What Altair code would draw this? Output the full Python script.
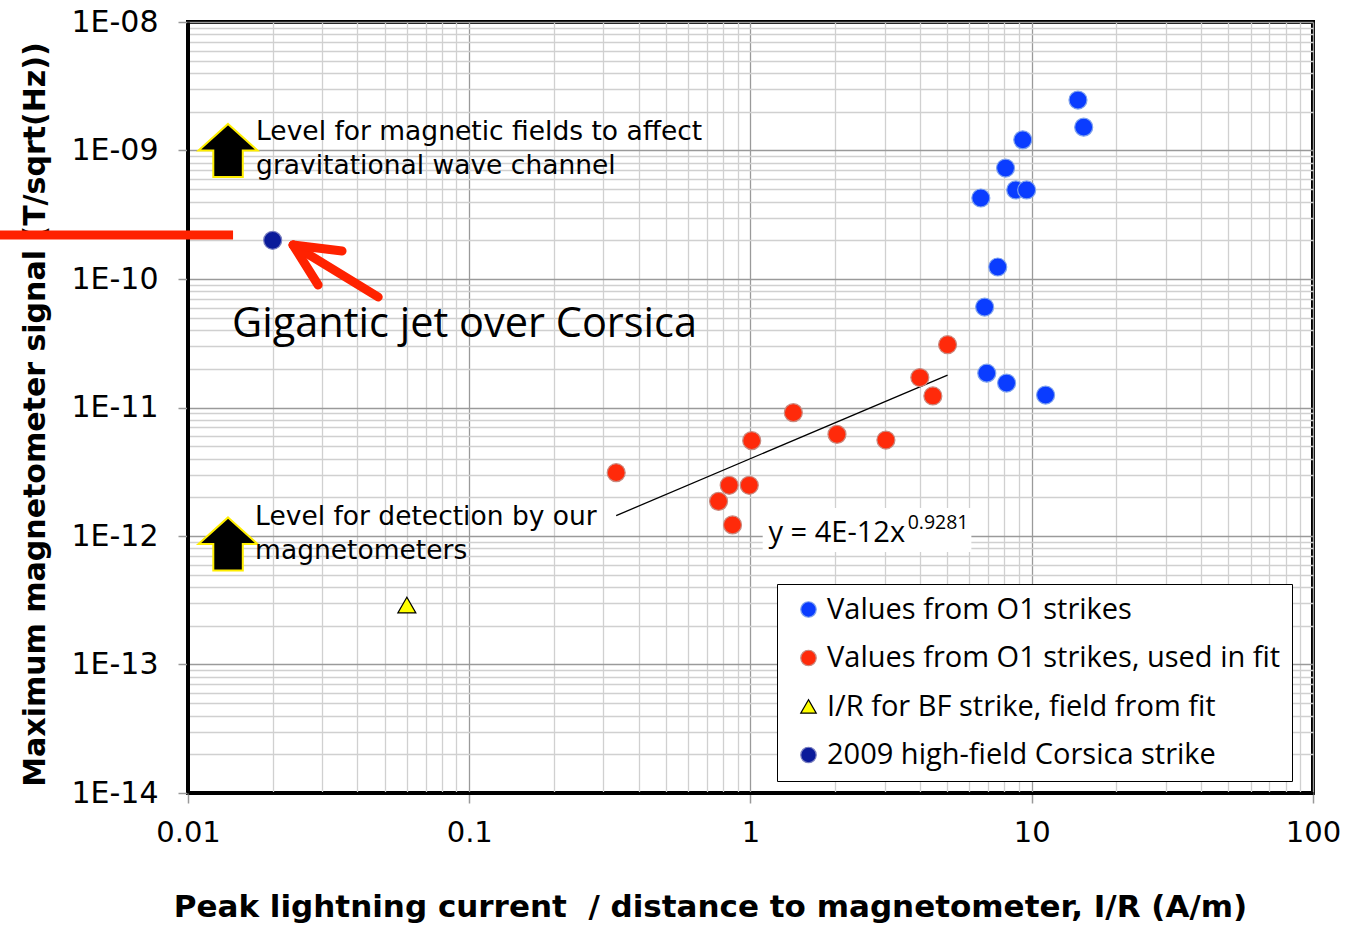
import altair as alt
import pandas as pd

# Peak current / distance (A/m) and peak magnetometer signal (T/sqrt(Hz))
o1_ir = [14.6, 15.3, 9.29, 8.07, 8.77, 9.59, 6.59, 7.57, 6.8, 6.92, 8.14, 11.2]
o1_b = [2.47e-9, 1.52e-9, 1.21e-9, 7.3e-10, 4.93e-10, 4.93e-10, 4.27e-10,
        1.24e-10, 6.05e-11, 1.85e-11, 1.55e-11, 1.25e-11]

fit_ir = [0.333, 1.42, 1.01, 2.03, 3.03, 0.84, 0.99, 0.77, 0.863, 4.0, 4.45, 5.02]
fit_b = [3.11e-12, 9.12e-12, 5.52e-12, 6.18e-12, 5.58e-12, 2.48e-12, 2.48e-12,
         1.86e-12, 1.22e-12, 1.71e-11, 1.23e-11, 3.08e-11]

bf_ir = [0.06]
bf_b = [2.9e-13]

corsica_ir = [0.02]
corsica_b = [2.0e-10]

series_names = [
    "Values from O1 strikes",
    "Values from O1 strikes, used in fit",
    "I/R for BF strike, field from fit",
    "2009 high-field Corsica strike",
]
series_fill = ["#0A3CFF", "#FF2A0A", "#FFFF00", "#0A1A9A"]
series_stroke = ["#7FA2EE", "#C98A80", "#000000", "#7A7FC0"]
series_shape = ["circle", "circle", "triangle-up", "circle"]

# power-law fit y = a * x^b, as printed on the chart
fit_a = 4e-12
fit_b_exp = 0.9281

rows = []
for name, xs, ys in zip(series_names, [o1_ir, fit_ir, bf_ir, corsica_ir],
                        [o1_b, fit_b, bf_b, corsica_b]):
    for xv, yv in zip(xs, ys):
        rows.append({"ir": xv, "b": yv, "series": name})
points = pd.DataFrame(rows)

fit_x = [min(fit_ir), max(fit_ir)]
fit_line = pd.DataFrame({"ir": fit_x, "b": [fit_a * v ** fit_b_exp for v in fit_x]})

# grid / tick values: every integer multiple inside each decade
x_vals = [k * 10.0 ** e for e in range(-2, 2) for k in range(1, 10)] + [100.0]
y_vals = [k * 10.0 ** e for e in range(-14, -8) for k in range(1, 10)] + [1e-8]

is_decade = "abs(log(datum.value)/LN10 - round(log(datum.value)/LN10)) < 0.001"

SANS = "DejaVu Sans"
SOFT = "Open Sans"

x_scale = alt.Scale(type="log", domain=[0.01, 100])
y_scale = alt.Scale(type="log", domain=[1e-14, 1e-8])

x_axis = alt.Axis(
    values=x_vals,
    labelExpr=f"({is_decade}) ? format(datum.value, '~g') : ''",
    labelFont=SANS, labelFontSize=29, labelColor="black",
    labelPadding=15, labelFlush=False, labelOverlap=False,
    tickSize=10, tickWidth=1.5,
    tickColor={"condition": {"test": is_decade, "value": "#999999"}, "value": "transparent"},
    grid=True, gridWidth=1.3,
    gridColor={"condition": {"test": is_decade, "value": "#9a9a9a"}, "value": "#d0d0d0"},
    domainColor="black", domainWidth=3,
    title="Peak lightning current\u00a0 / distance to magnetometer, I/R (A/m)",
    titleFont=SANS, titleFontSize=31, titleFontWeight="bold",
    titleColor="black", titleX=522, titleY=114, titleBaseline="middle",
    titleAlign="center",
)
y_axis = alt.Axis(
    values=y_vals,
    labelExpr=(f"({is_decade}) ? ('1E-' + (round(-log(datum.value)/LN10) < 10 ? '0' : '')"
               " + round(-log(datum.value)/LN10)) : ''"),
    labelFont=SANS, labelFontSize=30, labelColor="black",
    labelPadding=20, labelFlush=False, labelOverlap=False,
    tickSize=10, tickWidth=1.5,
    tickColor={"condition": {"test": is_decade, "value": "#999999"}, "value": "transparent"},
    grid=True, gridWidth=1.3,
    gridColor={"condition": {"test": is_decade, "value": "#9a9a9a"}, "value": "#d0d0d0"},
    domainColor="black", domainWidth=3,
    title="Maximum magnetometer signal (T/sqrt(Hz))",
    titleFont=SANS, titleFontSize=30, titleFontWeight="bold",
    titleColor="black", titleX=-153, titleY=392, titleAngle=270,
    titleBaseline="middle", titleAlign="center",
)

legend = alt.Legend(
    orient="none", legendX=589, legendY=562,
    labelFont=SOFT, labelFontSize=29, labelColor="black", labelLimit=700,
    labelOffset=4, symbolOffset=6, symbolSize=240, symbolStrokeWidth=1.2,
    rowPadding=18.5, padding=11,
    fillColor="white", strokeColor="black",
)

scatter = alt.Chart(points).mark_point(filled=True, size=324, strokeWidth=1.2, opacity=1).encode(
    x=alt.X("ir:Q", scale=x_scale, axis=x_axis),
    y=alt.Y("b:Q", scale=y_scale, axis=y_axis),
    fill=alt.Fill("series:N", title=None,
                  scale=alt.Scale(domain=series_names, range=series_fill), legend=legend),
    stroke=alt.Stroke("series:N", title=None,
                      scale=alt.Scale(domain=series_names, range=series_stroke), legend=legend),
    shape=alt.Shape("series:N", title=None,
                    scale=alt.Scale(domain=series_names, range=series_shape), legend=legend),
)

fit = alt.Chart(fit_line).mark_line(color="black", strokeWidth=1.3).encode(
    x=alt.X("ir:Q", scale=x_scale), y=alt.Y("b:Q", scale=y_scale)
)

# up arrows marking the two threshold levels
arrow_path = "M0,-0.9 L1,0 L0.5,0 L0.5,0.9 L-0.5,0.9 L-0.5,0 L-1,0 Z"
arrows = pd.DataFrame({"ir": [0.01388, 0.01388], "b": [1.0e-9, 8.67e-13]})
arrow_marks = alt.Chart(arrows).mark_point(
    shape=arrow_path, size=3481, filled=True, fill="black", stroke="#FFEE00",
    strokeWidth=2, opacity=1
).encode(x=alt.X("ir:Q", scale=x_scale), y=alt.Y("b:Q", scale=y_scale))

notes = pd.DataFrame({
    "ir": [0.01746, 0.01746, 0.01732, 0.01732],
    "b": [1.393e-9, 7.57e-10, 1.406e-12, 7.64e-13],
    "text": ["Level for magnetic fields to affect", "gravitational wave channel",
             "Level for detection by our", "magnetometers"],
})
note_marks = alt.Chart(notes).mark_text(
    align="left", baseline="middle", font=SANS, fontSize=26.5, color="black"
).encode(x=alt.X("ir:Q", scale=x_scale), y=alt.Y("b:Q", scale=y_scale), text="text:N")

jet = pd.DataFrame({"ir": [0.01434], "b": [4.38e-11], "text": ["Gigantic jet over Corsica"]})
jet_mark = alt.Chart(jet).mark_text(
    align="left", baseline="middle", font=SOFT, fontSize=41.5, color="black"
).encode(x=alt.X("ir:Q", scale=x_scale), y=alt.Y("b:Q", scale=y_scale), text="text:N")

# red pointer: horizontal bar and arrow toward the Corsica point
red_bar = pd.DataFrame({"ir": [0.00214], "ir2": [0.01446], "b": [2.2e-10], "b2": [2.2e-10]})
red_bar_mark = alt.Chart(red_bar).mark_rule(color="#FF2200", strokeWidth=9, strokeCap="butt").encode(
    x=alt.X("ir:Q", scale=x_scale), x2="ir2", y=alt.Y("b:Q", scale=y_scale), y2="b2"
)
red_arrow = pd.DataFrame({
    "ir": [0.02364, 0.02364, 0.02364],
    "ir2": [0.04745, 0.0353, 0.02902],
    "b": [1.839e-10, 1.839e-10, 1.839e-10],
    "b2": [7.24e-11, 1.652e-10, 8.98e-11],
})
red_arrow_mark = alt.Chart(red_arrow).mark_rule(color="#FF2200", strokeWidth=9, strokeCap="round").encode(
    x=alt.X("ir:Q", scale=x_scale), x2="ir2", y=alt.Y("b:Q", scale=y_scale), y2="b2"
)

# fit equation on a white label box
eq_box = pd.DataFrame({"ir": [1.105], "ir2": [6.1], "b": [1.65e-12], "b2": [7.5e-13]})
eq_box_mark = alt.Chart(eq_box).mark_rect(color="white").encode(
    x=alt.X("ir:Q", scale=x_scale), x2="ir2", y=alt.Y("b:Q", scale=y_scale), y2="b2"
)
eq_main = pd.DataFrame({"ir": [1.159], "b": [1.055e-12], "text": ["y = 4E-12x"]})
eq_main_mark = alt.Chart(eq_main).mark_text(
    align="left", baseline="middle", font=SOFT, fontSize=29, color="black"
).encode(x=alt.X("ir:Q", scale=x_scale), y=alt.Y("b:Q", scale=y_scale), text="text:N")
eq_sup = pd.DataFrame({"ir": [3.62], "b": [1.27e-12], "text": [f"{fit_b_exp}"]})
eq_sup_mark = alt.Chart(eq_sup).mark_text(
    align="left", baseline="middle", font=SOFT, fontSize=19.5, color="black"
).encode(x=alt.X("ir:Q", scale=x_scale), y=alt.Y("b:Q", scale=y_scale), text="text:N")

chart = alt.layer(
    eq_box_mark, fit, scatter, arrow_marks, note_marks, jet_mark,
    red_bar_mark, red_arrow_mark, eq_main_mark, eq_sup_mark,
).properties(
    width=1125, height=771,
    autosize=alt.AutoSizeParams(type="none"),
    padding={"left": 188, "top": 22, "right": 44, "bottom": 134},
    background="white",
).configure_view(
    stroke="black", strokeWidth=4
)

chart.save("out.html", embed_options={"renderer": "svg", "actions": False})
